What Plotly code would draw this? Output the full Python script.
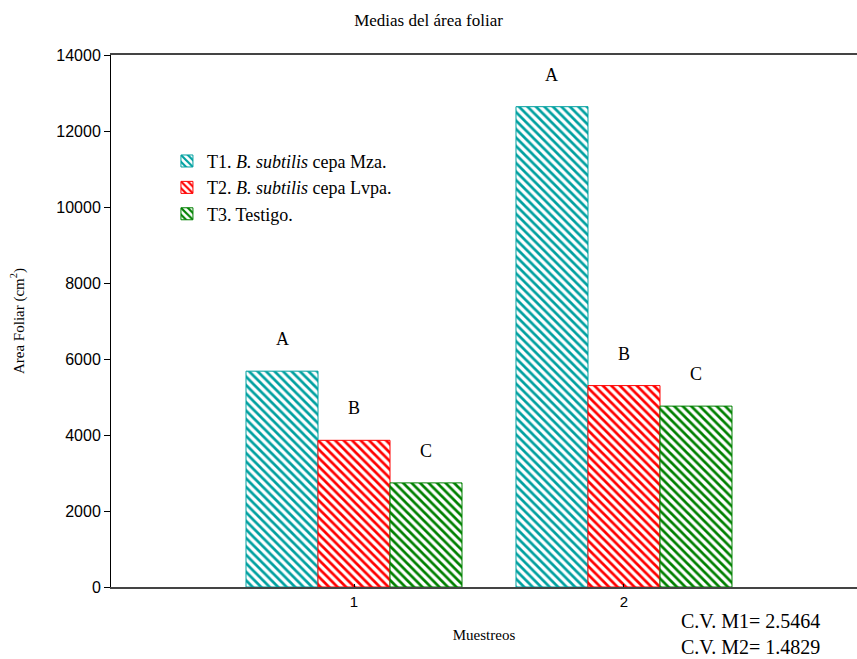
import plotly.graph_objects as go

muestreos = [1, 2]
series_names = ["T1. <i>B. subtilis</i> cepa Mza.",
                "T2. <i>B. subtilis</i> cepa Lvpa.",
                "T3. Testigo."]
t1 = [5680, 12640]
t2 = [3860, 5300]
t3 = [2740, 4760]
letters_t1 = ["A", "A"]
letters_t2 = ["B", "B"]
letters_t3 = ["C", "C"]
colors = ["#00A0A0", "#FF0000", "#008000"]
yticks = [0, 2000, 4000, 6000, 8000, 10000, 12000, 14000]

serif = "Liberation Serif, Times New Roman, serif"
sans = "Liberation Sans, Arial, sans-serif"

bargap = 0.2
n_series = 3
bar_w = (1 - bargap) / n_series

fig = go.Figure()
values = [t1, t2, t3]
letters = [letters_t1, letters_t2, letters_t3]
for i, (name, vals, col, lets) in enumerate(zip(series_names, values, colors, letters)):
    fig.add_trace(go.Bar(
        x=muestreos, y=vals, name=name,
        marker=dict(color="white",
                    line=dict(color=col, width=1),
                    pattern=dict(shape="\\", fgcolor=col, bgcolor="white",
                                 fgopacity=1, size=6, solidity=0.45)),
    ))
    for m, v, l in zip(muestreos, vals, lets):
        fig.add_annotation(x=m + (i - 1) * bar_w, y=v, text=l, showarrow=False,
                           xref="x", yref="y", yanchor="bottom", yshift=20,
                           font=dict(family=serif, size=18, color="black"))

fig.update_layout(
    width=857, height=659,
    margin=dict(l=111, r=0, t=55, b=72),
    paper_bgcolor="white", plot_bgcolor="white",
    barmode="group", bargap=bargap, bargroupgap=0,
    title=dict(text="Medias del área foliar", x=0.5, xanchor="center",
               y=0.97, yanchor="middle",
               font=dict(family=serif, size=17, color="black")),
    legend=dict(x=0.075, y=0.835, xanchor="left", yanchor="top",
                bgcolor="rgba(0,0,0,0)", tracegroupgap=0,
                font=dict(family=serif, size=18, color="black"),
                itemwidth=30),
    showlegend=True,
)

fig.update_xaxes(range=[0.1, 2.863], tickvals=muestreos,
                 ticktext=[str(m) for m in muestreos],
                 ticks="inside", ticklen=3, tickcolor="black",
                 showline=True, linecolor="#444", linewidth=2, mirror=True,
                 showgrid=False, zeroline=False,
                 tickfont=dict(family=sans, size=15, color="black"),
                 title=dict(text="Muestreos", standoff=20,
                            font=dict(family=serif, size=15, color="black")))
fig.update_yaxes(range=[0, 14000], tickvals=yticks,
                 ticktext=[str(t) for t in yticks],
                 ticks="outside", ticklen=6, tickcolor="black",
                 showline=True, linecolor="black", linewidth=1,
                 showgrid=False, zeroline=False,
                 tickfont=dict(family=sans, size=16, color="black"),
                 title=dict(text="Area Foliar (cm<sup>2</sup>)", standoff=28,
                            font=dict(family=serif, size=15, color="black")))

fig.add_annotation(text="C.V. M1= 2.5464<br>C.V. M2= 1.4829",
                   xref="paper", yref="paper", x=0.953, y=-0.04,
                   xanchor="right", yanchor="top", showarrow=False, align="left",
                   font=dict(family=serif, size=20, color="black"))

fig.write_html("out.html")
